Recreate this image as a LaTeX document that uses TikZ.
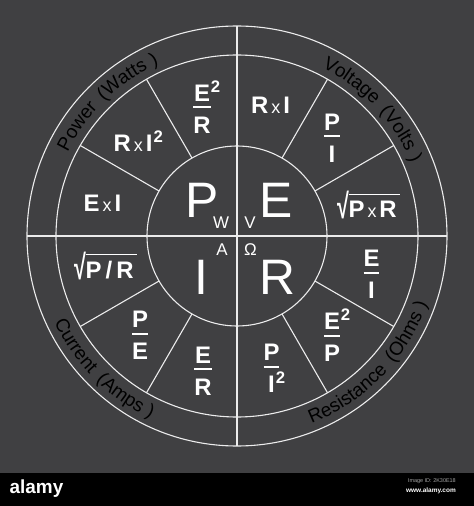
\documentclass[tikz,border=0pt]{standalone}
\usepackage{fontspec}
\setmainfont{Liberation Sans}
\usetikzlibrary{decorations.text}
\definecolor{wheelbg}{RGB}{64,64,66}
\definecolor{wheelline}{RGB}{236,236,236}
\setlength{\arrayrulewidth}{1.8pt}
\newcommand{\ohmfrac}[2]{\begin{tabular}{@{}c@{}}#1\\[-3pt]\hline\rule{0pt}{25pt}#2\end{tabular}}
\newcommand{\sq}{\kern1pt\textsuperscript{2}}
\newcommand{\tms}{{\mdseries\fontsize{18}{18}\selectfont\,x\,}}
\newcommand{\ohmroot}[1]{\raisebox{-1pt}{\scalebox{0.9}[1.45]{√}}\kern-0.5pt\vbox{\hrule height 1.2pt\kern 6pt\hbox{#1\kern 3pt}}}
\newcommand{\ringfont}{\fontsize{19}{19}\selectfont}
\tikzset{
  wheel/.style={draw=wheelline,line width=1.1bp},
  bigletter/.style={text=white,inner sep=0pt,font=\fontsize{50}{50}\selectfont},
  unitletter/.style={text=white,inner sep=0pt,font=\fontsize{17}{17}\selectfont},
  cell/.style={text=white,inner sep=0pt,font=\bfseries\fontsize{24}{28}\selectfont},
  ringtext/.style={decorate,color=white,decoration={text along path,text align=center,text={|\ringfont|#1}}},
}
\begin{document}
\begin{tikzpicture}[line join=bevel]
\useasboundingbox (-237bp,-270bp) rectangle (237bp,236bp);
\fill[wheelbg] (-237bp,-237bp) rectangle (237bp,236bp);
\fill[black] (-237bp,-270bp) rectangle (237bp,-237bp);
%% wheel
\draw[wheel] (0,0) circle[radius=210bp];
\draw[wheel] (0,0) circle[radius=181bp];
\draw[wheel] (0,0) circle[radius=90bp];
\draw[wheel] (-210bp,0) -- (210bp,0);
\draw[wheel] (0,-210bp) -- (0,210bp);
\foreach \a in {30,60,120,150,210,240,300,330}
  \draw[wheel] (\a:90bp) -- (\a:181bp);
%% ring labels
\path[ringtext={Power{\kern9pt}(Watts{\kern6pt})}] (194:189bp) arc[start angle=194,end angle=74,radius=189bp];
\path[ringtext={Voltage{\kern9pt}(Volts{\kern6pt})}] (103:189bp) arc[start angle=103,end angle=-17,radius=189bp];
\path[ringtext={Current{\kern9pt}(Amps{\kern6pt})}] (165:202bp) arc[start angle=165,end angle=285,radius=202bp];
\path[ringtext={Resistance{\kern9pt}(Ohms{\kern6pt})}] (256:202bp) arc[start angle=256,end angle=376,radius=202bp];
%% centre
\node (big_p) at (-34.5bp,36.0bp) [bigletter] {P};
\node (big_e) at (39.5bp,36.0bp) [bigletter] {E};
\node (big_i) at (-35.5bp,-41.5bp) [bigletter] {I};
\node (big_r) at (40.0bp,-41.5bp) [bigletter] {R};
\node (unit_w) at (-16.0bp,13.5bp) [unitletter] {W};
\node (unit_v) at (13.0bp,13.5bp) [unitletter] {V};
\node (unit_a) at (-15.0bp,-13.5bp) [unitletter] {A};
\node (unit_o) at (13.5bp,-13.5bp) [unitletter] {Ω};
%% power
\node (pw_er) at (-35.0bp,125.0bp) [cell] {\ohmfrac{E\rlap{\sq}}{R}};
\node (pw_ri) at (-98.5bp,95.0bp) [cell] {R\tms I\sq};
\node (pw_ei) at (-134.5bp,32.5bp) [cell] {E\tms I};
%% voltage
\node (vt_ri) at (33.5bp,130.5bp) [cell] {R\tms I};
\node (vt_pi) at (95.0bp,95.5bp) [cell] {\ohmfrac{P}{I}};
\node (vt_pr) at (131.5bp,31.0bp) [cell] {\ohmroot{P\tms R}};
%% resistance
\node (rs_ei) at (134.5bp,-41.0bp) [cell] {\ohmfrac{E}{I}};
\node (rs_ep) at (95.0bp,-103.5bp) [cell] {\ohmfrac{E\rlap{\sq}}{P}};
\node (rs_pi) at (34.5bp,-135.0bp) [cell] {\ohmfrac{P}{I\rlap{\sq}}};
%% current
\node (cu_pr) at (-131.5bp,-30.0bp) [cell] {\ohmroot{P\,/\,R}};
\node (cu_pe) at (-97.0bp,-102.0bp) [cell] {\ohmfrac{P}{E}};
\node (cu_er) at (-34.0bp,-137.5bp) [cell] {\ohmfrac{E}{R}};
%% strip
\node (logo) at (-200.5bp,-252.5bp) [text=white,inner sep=0pt,font=\bfseries\fontsize{19}{19}\selectfont] {alamy};
\node (img_id) at (219.0bp,-245.5bp) [anchor=east,text=gray!70,inner sep=0pt,font=\fontsize{5.5}{6}\selectfont] {Image ID: 2K30E18};
\node (site) at (219.0bp,-254.5bp) [anchor=east,text=white,inner sep=0pt,font=\bfseries\fontsize{6.5}{7}\selectfont] {www.alamy.com};
%
\end{tikzpicture}
\end{document}
